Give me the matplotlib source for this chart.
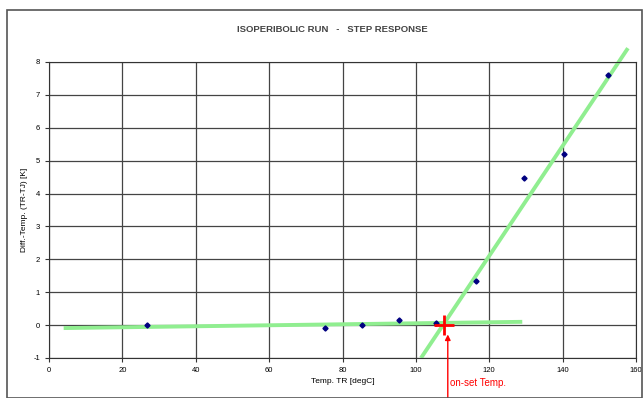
import matplotlib.pyplot as plt
from matplotlib.patches import Rectangle

plt.rcParams['font.family'] = ['Liberation Sans', 'DejaVu Sans']
plt.rcParams['axes.unicode_minus'] = False

# measured points
temp_tr = [26.7, 75.2, 85.3, 95.4, 105.5, 116.3, 129.4, 140.3, 152.3]
diff_temp = [0.0, -0.1, 0.0, 0.15, 0.06, 1.34, 4.47, 5.2, 7.6]

# fitted lines (baseline and step)
base_x = [4, 129]
base_y = [-0.09, 0.1]
step_x = [101.4, 157.8]
step_y = [-1.0, 8.42]

onset_x = 107.6
onset_y = 0.0

x_ticks = list(range(0, 161, 20))
y_ticks = list(range(-1, 9))

fig = plt.figure(figsize=(6.43, 3.98), dpi=100)
fig.patches.append(Rectangle((7 / 643, 0), 0.999 - 7 / 643, 1 - 10 / 398, transform=fig.transFigure,
                             fill=False, edgecolor='#555555', linewidth=1.2))
ax = fig.add_axes([49 / 643, 40 / 398, 587 / 643, 296 / 398])

ax.plot(base_x, base_y, color='#90ee90', lw=2.8, solid_capstyle='butt', zorder=2)
ax.plot(step_x, step_y, color='#90ee90', lw=2.8, solid_capstyle='butt', zorder=2, clip_on=False)
ax.plot(temp_tr, diff_temp, linestyle='none', marker='D', ms=2.6, color='#000080', zorder=3)
ax.plot([onset_x], [onset_y], marker='+', ms=14, mew=2, color='red', zorder=4)

ax.annotate('', xy=(108.7, -0.2), xytext=(108.7, -2.3), annotation_clip=False,
            arrowprops=dict(arrowstyle='-|>', color='red', lw=1, mutation_scale=8))
ax.text(109.2, -1.75, 'on-set Temp.', color='red', fontsize=7, va='center', ha='left', clip_on=False)

ax.set_xlim(0, 160)
ax.set_ylim(-1, 8)
ax.set_xticks(x_ticks)
ax.set_yticks(y_ticks)
ax.grid(True, color='#444444', lw=0.9)
ax.set_axisbelow(True)
for s in ax.spines.values():
    s.set_color('#333333')
ax.tick_params(labelsize=5.5, length=3, color='#333333', direction='out')

ax.set_xlabel('Temp. TR [degC]', fontsize=6, labelpad=3)
ax.set_ylabel('Diff.-Temp. (TR-TJ) [K]', fontsize=6, labelpad=4)
fig.text(332 / 643, 1 - 29 / 398, 'ISOPERIBOLIC RUN   -   STEP RESPONSE', ha='center', va='center',
         fontsize=6.8, fontweight='bold', color='#444444')

fig.savefig('out.png', dpi=100)
